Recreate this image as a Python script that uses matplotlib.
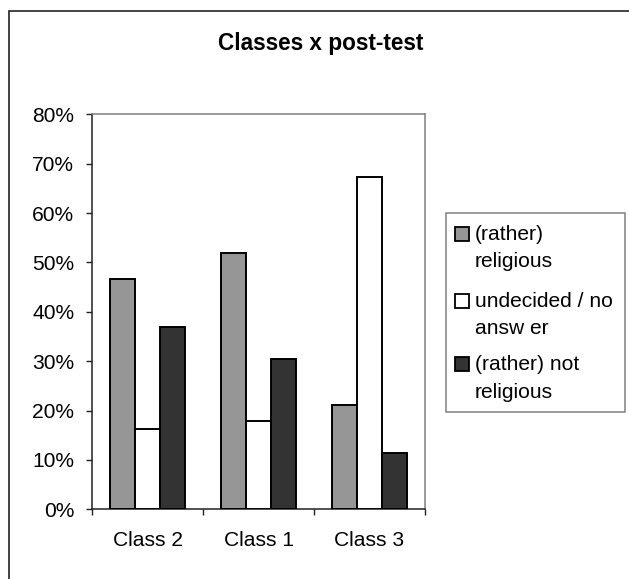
import matplotlib
matplotlib.use("Agg")
import matplotlib.pyplot as plt
from matplotlib.patches import Rectangle
from matplotlib.ticker import FuncFormatter
import numpy as np

plt.rcParams['font.family'] = ['Liberation Sans', 'DejaVu Sans']

categories = ["Class 2", "Class 1", "Class 3"]
series_names = ["(rather) religious", "undecided / no answ er", "(rather) not religious"]
legend_lines = [["(rather)", "religious"], ["undecided / no", "answ er"], ["(rather) not", "religious"]]
religious = [46.6, 51.9, 21.1]
undecided = [16.3, 17.9, 67.2]
not_religious = [36.9, 30.4, 11.4]
colors = ["#969696", "#ffffff", "#333333"]
y_ticks = [0, 10, 20, 30, 40, 50, 60, 70, 80]
title = "Classes x post-test"

W, H = 629, 579
fig = plt.figure(figsize=(W / 100, H / 100), dpi=100)


def fx(px):
    return px / W


def fy(py):
    return 1 - py / H


# outer chart frame
fig.patches.append(Rectangle((fx(8.5), fy(700)), fx(700), fy(10.7) - fy(700),
                             transform=fig.transFigure, fill=False,
                             edgecolor="#222222", linewidth=1.2))

ax = fig.add_axes([fx(92.3), fy(509.3), fx(425) - fx(92.3), fy(114.3) - fy(509.3)])

x = np.arange(len(categories))
width = 0.225
for i, vals in enumerate([religious, undecided, not_religious]):
    ax.bar(x + (i - 1) * width, vals, width, color=colors[i], edgecolor="black",
           linewidth=1.4, label=series_names[i], zorder=3)

ax.set_xlim(-0.5, len(categories) - 0.5)
ax.set_ylim(0, 80)
ax.set_yticks(y_ticks)
ax.yaxis.set_major_formatter(FuncFormatter(lambda v, p: f"{v:.0f}%"))
ax.set_xticks(np.arange(len(categories) + 1) - 0.5)
ax.set_xticklabels([])
ax.set_xticks(x, minor=True)
ax.set_xticklabels(categories, minor=True)
ax.tick_params(axis="y", direction="out", length=4, width=1, pad=9,
               labelsize=15.1, colors="#222222", labelcolor="black")
ax.tick_params(axis="x", which="major", direction="out", length=4, width=1,
               colors="#222222")
ax.tick_params(axis="x", which="minor", length=0, pad=15.5, labelsize=15.1)

for s in ["left", "bottom"]:
    ax.spines[s].set_color("#222222")
    ax.spines[s].set_linewidth(1.1)
for s in ["top", "right"]:
    ax.spines[s].set_color("#808080")
    ax.spines[s].set_linewidth(1.1)

fig.text(fx(320.5), fy(50), title, ha="center", va="baseline",
         fontsize=16.3, fontweight="bold")

# legend box drawn line by line
fig.patches.append(Rectangle((fx(446.3), fy(412.3)), fx(625) - fx(446.3), fy(213.3) - fy(412.3),
                             transform=fig.transFigure, facecolor="white",
                             edgecolor="#808080", linewidth=1.1))
handle_centers = [234, 300.7, 364]
baselines = [[240, 267], [307, 334], [370, 398]]
for i in range(3):
    cy = handle_centers[i]
    fig.patches.append(Rectangle((fx(454.5), fy(cy + 7)), fx(14), fy(0) - fy(14),
                                 transform=fig.transFigure, facecolor=colors[i],
                                 edgecolor="black", linewidth=1.3))
    for line, b in zip(legend_lines[i], baselines[i]):
        fig.text(fx(475), fy(b), line, ha="left", va="baseline", fontsize=15.1)

fig.savefig("out.png", dpi=100)
